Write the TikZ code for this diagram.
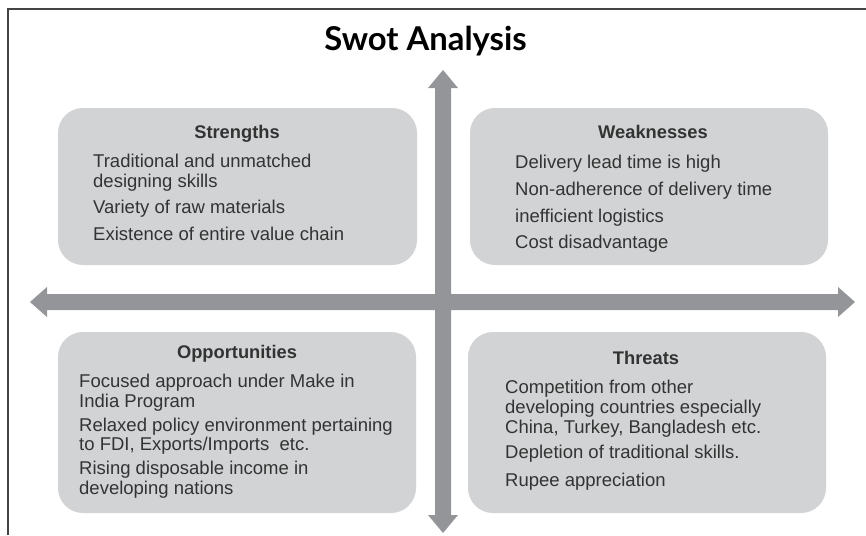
\documentclass[tikz,border=0pt]{standalone}
\usepackage{fontspec}
\setmainfont{Liberation Sans}
\newfontfamily\titlefont{Lato}
\definecolor{boxgray}{HTML}{D1D3D4}
\definecolor{arrowgray}{HTML}{939598}
\definecolor{txtgray}{HTML}{333333}
\definecolor{framegray}{HTML}{444444}
\begin{document}
\begin{tikzpicture}[x=1pt,y=-1pt,
  quad/.style={fill=boxgray,rounded corners=25pt},
  head/.style={anchor=base,inner sep=0pt,text=txtgray,font=\fontsize{18.3}{20}\selectfont\bfseries},
  item/.style={anchor=base west,inner sep=0pt,text=txtgray,font=\fontsize{18.5}{20}\selectfont},
  axis/.style={fill=arrowgray}]
\useasboundingbox (0,0) rectangle (866,535);
% frame
\draw[framegray,line width=1.4pt] (8,535) -- (8,9) -- (866,9);
% title
\node[anchor=base,inner sep=0pt,font=\titlefont\fontsize{32.8}{36}\selectfont\bfseries] (title) at (425.5,50) {Swot Analysis};
% boxes
\fill[quad] (58,108) rectangle (417,265);
\fill[quad] (470,108) rectangle (828,265);
\fill[quad] (58,332) rectangle (416,513);
\fill[quad] (468,332) rectangle (826,513);
% axes
\fill[axis] (435,88) -- (428,88) -- (443,70) -- (458,88) -- (451,88) -- (451,515) -- (458,515) -- (443,533) -- (428,515) -- (435,515) -- cycle;
\fill[axis] (47,294) -- (47,287) -- (30,302) -- (47,317) -- (47,310) -- (838,310) -- (838,317) -- (855,302) -- (838,287) -- (838,294) -- cycle;
% Strengths
\node[head] (sh) at (237,138) {Strengths};
\node[item] (s1) at (93,167) {Traditional and unmatched};
\node[item] (s2) at (93,187) {designing skills};
\node[item] (s3) at (93,213) {Variety of raw materials};
\node[item] (s4) at (93,240) {Existence of entire value chain};
% Weaknesses
\node[head] (wh) at (653,138) {Weaknesses};
\node[item] (w1) at (515,168) {Delivery lead time is high};
\node[item] (w2) at (515,195) {Non-adherence of delivery time};
\node[item] (w3) at (515,222) {inefficient logistics};
\node[item] (w4) at (515,248) {Cost disadvantage};
% Opportunities
\node[head] (oh) at (237,358) {Opportunities};
\node[item] (o1) at (79,387) {Focused approach under Make in};
\node[item] (o2) at (79,407) {India Program};
\node[item] (o3) at (79,431) {Relaxed policy environment pertaining};
\node[item] (o4) at (79,450) {to FDI, Exports/Imports\ \ etc.};
\node[item] (o5) at (79,474) {Rising disposable income in};
\node[item] (o6) at (79,494) {developing nations};
% Threats
\node[head] (th) at (646,364) {Threats};
\node[item] (t1) at (505,393) {Competition from other};
\node[item] (t2) at (505,413) {developing countries especially};
\node[item] (t3) at (505,433) {China, Turkey, Bangladesh etc.};
\node[item] (t4) at (505,458) {Depletion of traditional skills.};
\node[item] (t5) at (505,486) {Rupee appreciation};
\end{tikzpicture}
\end{document}
